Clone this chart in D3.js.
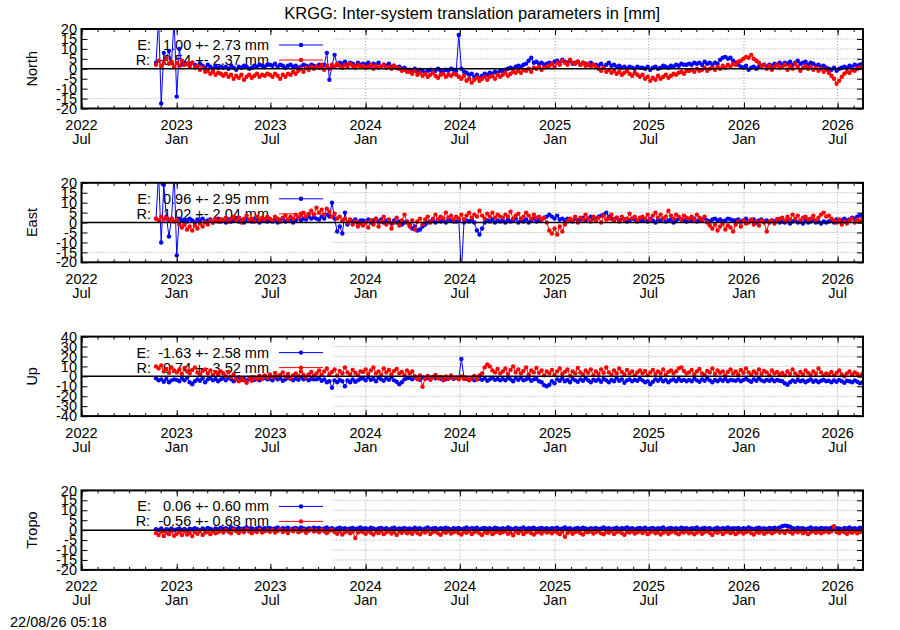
<!DOCTYPE html>
<html>
<head>
<meta charset="utf-8">
<script src="https://cdn.jsdelivr.net/npm/d3@7"></script>
<style>
body { margin: 0; background: #fff; }
text { font-family: "Liberation Sans", Arial, sans-serif; font-size: 14.5px; fill: #000; }
</style>
</head>
<body>
<svg id="chart" width="900" height="630"></svg>
<script>
// samples every 5 days from 2022-11-22
var sampleStart = "2022-11-22";
var sampleStepDays = 5;

var northE = [3, 25, -17.5, 8, 5, 9, 3, 25,
  -14, 10, 2, 3, 2.5, 1.5, 3, 2, 1, 2.5, 1.5, 0.5, 2, 1, 0, 1.5, 0.5, 1,
  0.5, 1, 0, 1.5, 0.5, -0.5, 1, 0.5, 1.5, 1, 0, 0.5, 1.5, 1, 2, 1.5, 1, 2,
  2, 1.5, 2.5, 1, 2, 1.5, 0.5, 1.5, 2, 1, 1.5, 0.5, 1, 2, 1.5, 1, 2, 1.5,
  1, 2, 0.5, 2, 8, -5.5, 1.5, 7, 2, 3, 2.5, 3.5, 2, 3, 2.5, 1.5, 3, 2,
  2.5, 2, 3, 1.5, 2.5, 2, 3, 1, 2, 1.5, 2.5, 1, 1.5, 0.5, 1, 0, 0.5, -0.5,
  -0.5, -1, 0, -1.5, -0.5, -1, -2, -1, -0.5, -1.5, -1, 0, -1, -1.5, -0.5, -1, 0, -0.5,
  -1, 17, 0, -1.5, -2, -3, -2.5, -4, -3, -4.5, -3.5, -2.5, -3, -2, -2.5, -1.5, -2, -1,
  -1, -0.5, 0, 0.5, 0, 1, 1.5, 1, 2, 2.5, 4, 5.5, 3, 3.5, 2.5, 3, 2, 2.5,
  3, 2.5, 3.5, 4, 3, 4.5, 3.5, 3, 4, 2.5, 3, 3.5, 2, 3, 2.5, 2, 3, 2,
  2, 1.5, 2.5, 1, 2, 3, 1.5, 2, 1, 1.5, 0.5, 1, 0, 1, 0.5, 0, 1, 0.5,
  0.5, 0, 1, -0.5, 0.5, 1, 0, 0.5, 1.5, 1, 0.5, 1.5, 1, 2, 1.5, 2.5, 2, 2,
  2.5, 2, 3, 2.5, 3, 2, 3.5, 2.5, 3, 2, 3, 2.5, 4.5, 5.5, 6, 5, 5.5, 4,
  3, 2, 1, 0.5, 1.5, -0.5, 0.5, 1, 0, 1, 1.5, 2, 1, 2, 1.5, 2.5, 2, 3,
  2, 3, 2.5, 3.5, 2, 3, 4, 2.5, 3, 3.5, 2, 3, 2.5, 1.5, 2, 1, 1.5, 0.5,
  0, -0.5, 0.5, -1, 0, 0.5, 1, 0.5, 1.5, 1, 2, 1.5, 2, 2.5];

var northR = [2, 4, 1.5, 3, 5, 2.5, 3.5, 1,
  3, 1.5, 4, 2, 2.5, 1, 3, 0.5, 1.5, -0.5, 0.5, -1.5, -1, -2.5, -1.5, -3, -2, -2.5,
  -3.5, -2.5, -4, -3, -5, -3.5, -4.5, -3, -5.5, -4, -3, -4.5, -3.5, -2.5, -4, -3, -3.5, -2.5,
  -3, -4, -2.5, -3.5, -5, -3, -4, -2.5, -3, -1.5, -2.5, -1, 0, -1.5, 0.5, -0.5, 1, 0,
  1, 0.5, 2, -0.5, 1.5, 0, 2, 1, 2.5, 1.5, 0.5, 2, 1, 2.5, 1.5, 0.5, 2, 1,
  1.5, 0.5, 1, 2, 0, 1.5, 0.5, 1, 2, 0.5, 1, 0, 1.5, 0.5, 0, -1, -0.5, -1.5,
  -1.5, -2.5, -1, -3, -2, -3.5, -2.5, -4, -3, -2, -3.5, -4.5, -3, -2.5, -4, -3, -3.5, -2.5,
  -3, -4, -5, -3.5, -6, -5, -7, -5.5, -4.5, -6, -5, -4, -5.5, -4, -3.5, -5, -3, -4,
  -3, -2, -3.5, -2.5, -1.5, -2, -1, -2, -0.5, -1, 0, -1.5, 0.5, 0, 1, -0.5, 0.5, 1,
  1.5, 2.5, 1, 3, 2, 4, 3, 2, 4.5, 3, 2.5, 3.5, 2, 3, 1.5, 2.5, 1, 2,
  1, 0, -1, 0.5, -1.5, -0.5, -2, -1, -2.5, -1.5, -3, -2, -1, -2.5, -3.5, -2, -3, -4,
  -3, -5, -4, -6, -4.5, -5.5, -3.5, -5, -4, -3, -4.5, -3.5, -2.5, -3, -2, -1.5, -2.5, -1,
  -1, -0.5, -1.5, 0, -1, -0.5, 0.5, -1, 0, 0.5, -0.5, 1, 0, 1.5, 0.5, 2, 1, 2.5,
  2, 3.5, 4, 5, 6, 5.5, 7, 5, 4, 3, 1, 2, 0, 1.5, -0.5, 1, 2, 0.5,
  1, 2, -0.5, 1.5, 0, 2.5, 1, -1, 0.5, 1.5, 0, 1, -0.5, 0.5, -1, 0, -1.5, -0.5,
  -2, -3.5, -5, -7.5, -6, -4, -2.5, -1.5, -2, -0.5, -1, 0, 0.5, 1];

var eastE = [2, 25, -10, 19, 3, -7, 2, 25,
  -16.5, 2, 1, 1.5, 0.5, 2, 1, 0, 1.5, 1, 2, 0.5, 1, 1.5, 0, 1, 2, 0.5,
  1, 0, 1.5, 0.5, 1, 2, 0.5, 1, 0, 1.5, 1, 0.5, 2, 1, 0, 1, 1.5, 0.5,
  1, 0.5, 1.5, 0, 1, 2, 0.5, 1, 1.5, 0, 1, 2.5, 1, 2, 1.5, 3, 2, 2.5,
  2, 1.5, 3, 2, 4, 3, 10, 2, -4.5, -2, -5.5, 5, -1, 1, 0.5, 1.5, 0, 1,
  1, 0.5, 1.5, 0, 1, 2, 0.5, 1.5, 0, 1, 0.5, -0.5, 1, 0, 0.5, -1, 0, 0.5,
  -1, -3, -2, -4, -3.5, -2, -1, 0, 0.5, 1, 0, 1.5, 0.5, 1, 0, 1.5, 1, 0.5,
  0.5, 1, -25, 0, 1, 0.5, 1.5, 0, -4, -6, -3, 0, 1, 0.5, 1.5, 0, 1, 0.5,
  1, 0, 1.5, 0.5, 1, 2, 0, 1, 0.5, 1.5, 0, 1, 2, 0.5, 1, 1.5, 2.5, 3,
  4, 3, 2, 3.5, 1.5, 2, 1, 2, 1.5, 0.5, 2, 1, 1.5, 2.5, 1, 2, 3, 2,
  2, 3, 3.5, 4, 5, 3, 2, 1.5, 2.5, 1, 2, 1.5, 0.5, 1, 2, 1.5, 0.5, 1,
  1, 1.5, 0.5, 2, 1, 0, 1.5, 1, 2, 0.5, 1, 1.5, 0, 1, 2, 1.5, 1, 0.5,
  1.5, 1, 2, 0.5, 1, 1.5, 2, 1, 0.5, 1.5, 2, 1, 1.5, 0.5, 1, 2, 1.5, 1,
  1, 1.5, 0.5, 1, 2, 0.5, 1, 1.5, 0, 1, 1.5, 0.5, 1, 0, 1, 0.5, 1.5, 0,
  0.5, 0, 1, -0.5, 0.5, 1, 0, 0.5, -0.5, 1, 0, 0.5, 1, 0, 0.5, -0.5, 0.5, 0,
  0.5, 1, 0, 1.5, 0.5, 1, 2, 1, 1.5, 2.5, 2, 3, 3.5, 4];

var eastR = [2, 1, 3, 1.5, 2.5, 1, 2, 0.5,
  1, -1, -2.5, -1, -3.5, -2, -4, -1.5, -3, -0.5, -2, 0, -1, 1, 0, 2, 0.5, 1.5,
  1, 2.5, 0.5, 2, 3, 1, 2.5, 0, 2, 3.5, 1.5, 2, 0.5, 3, 1, 2.5, 1.5, 3,
  2, 1, 3, 2, 0.5, 2.5, 3.5, 1.5, 3, 2, 4, 2.5, 3.5, 5, 3, 4.5, 6, 4,
  7.5, 5, 6.5, 4, 7, 5.5, 3, 4.5, 2, 3, 1, 2, 0, 1.5, -1, 0.5, -2, -0.5,
  -1.5, 0, -2.5, 1, -1, 2, -2, 0.5, 3, -1, 1.5, -3, 0, 2.5, -1.5, 1, 4, 0,
  -2, 1, -3.5, 0.5, 2, -1, 1.5, 3, 0, 2, 4, 1.5, 3, 2, 5, 2.5, 3.5, 1.5,
  3, 2, 4, 1.5, 3.5, 5, 2.5, 4, 3, 6, 3.5, 2, 4.5, 3, 5, 2.5, 4, 3,
  2.5, 4, 3, 5.5, 2, 3.5, 4.5, 2, 3, 5, 3.5, 2, 4, 2.5, 3, 1.5, 2.5, 0,
  -4, -5.5, -3, -6, -2, -4.5, -1, 0.5, 2, 1, 3, 0, 2.5, 1.5, 4, 2, 0.5, 3,
  1, 2.5, 0, 3.5, 1.5, 2, 4, 1, 2.5, 0.5, 3, 1.5, 2, 4.5, 2, 3, 1, 2.5,
  3, 2, 4, 1.5, 3.5, 5, 2.5, 4, 2, 3, 6, 3.5, 2, 4, 3, 1.5, 3.5, 2.5,
  2, 3, 1.5, 4, 2.5, 1, 3, 0, -1.5, -3, -1, -4, -2, -0.5, -3.5, -1.5, -2.5, -4.5,
  -1, 0.5, -2, 1, -0.5, 0, 1.5, -1, 0.5, -1.5, 1, 0, -4.5, 0.5, 1, -0.5, 1.5, 2,
  2.5, 1, 3, 1.5, 4, 2, 3.5, 1, 2.5, 3, 1.5, 2, 3.5, 1, 2.5, 4, 5, 3,
  3.5, 2, 1, 0, 1.5, -1, 0.5, -0.5, 1, 2, 0, 1.5, 0.5, 2];

var upE = [-2, -4, -3, -5.5, -2.5, -6, -4, -3,
  -3.5, -5, -2, -4, -1.5, -6, -8, -5, -3, -4.5, -2, -6, -3, -1.5, -4, -2.5, -5, -3,
  -2, -4, -1.5, -3, -5, -2.5, -1, -3.5, -2, -4.5, -3, -1, -3.5, -2, -4, -2.5, -1.5, -3,
  -2.5, -4, -1, -3, -2, -4.5, -3, -1.5, -2.5, -4, -2, -3.5, -1, -3, -2, -4, -2.5, -3,
  -3, -2, -4.5, -3, -6, -5, -11.5, -4, -6, -3.5, -5, -10, -4, -6, -3, -5.5, -4, -2.5,
  -2, -4, -1, -3.5, -2.5, -5, -1.5, -3, -4.5, -2, -3.5, -1, -4, -5.5, -8, -6, -3, -2,
  -1.5, -3, -0.5, -2, -3.5, -1, -2.5, -1.5, -3, -0.5, -2, -1, -2.5, -1.5, -3, -2, -1, -2.5,
  -1.5, -2, 17.5, -1, -2.5, -3.5, -2, -4, -3, -2.5, -3.5, -2, -4.5, -3, -1.5, -3.5, -2.5, -4,
  -2.5, -4, -1.5, -3, -5, -2, -3.5, -1.5, -4, -3, -2, -4.5, -3, -2.5, -5, -6, -9, -10,
  -8.5, -5, -7, -3, -4.5, -2, -5, -3.5, -6, -2.5, -4, -5.5, -3, -4.5, -2, -4, -6, -3.5,
  -4.5, -3, -5.5, -2.5, -4, -6, -3.5, -5, -2, -4.5, -3, -6.5, -4, -3, -5, -3.5, -4.5, -2.5,
  -4, -6, -5, -8, -5.5, -3, -4.5, -2.5, -5, -3.5, -6, -4, -3, -5, -2.5, -4.5, -3.5, -5,
  -3.5, -5, -2.5, -4, -5.5, -3, -4.5, -2, -4, -6, -3.5, -5, -3, -4.5, -2.5, -5, -3.5, -4,
  -4.5, -3, -5, -3.5, -2.5, -4, -5.5, -3, -4.5, -2, -4, -5, -3.5, -4.5, -3, -5, -3.5, -4.5,
  -5, -7, -8.5, -6, -4, -5.5, -3.5, -5, -4, -6, -4.5, -3, -5.5, -4, -6, -4.5, -3.5, -5,
  -4.5, -6, -4, -5.5, -3.5, -5, -6.5, -4.5, -5, -6, -4, -5.5, -7, -6];

var upR = [10, 8, 11, 5, 7.5, 3.5, 9, 6,
  4, 7, 2.5, 8.5, 5, 3, 6.5, 9, 4, 2, 5.5, 7, 3, 6, 1.5, 4.5, 2, 5,
  3, 0, 4.5, -1, 2, -3, -5, -1.5, -4, -6.5, -2, -4.5, -1, -3, 0.5, -2.5, 1, -1.5,
  2, -1, 3.5, 0, 1.5, 4, -0.5, 2.5, -2, 1, 3, 0, 5, 1.5, -1, 2, 4.5, 0.5,
  3, 6, 1.5, 5, 8, 2, 4.5, 7, 0.5, 5.5, 3, 9, 4, 2, 6.5, 3.5, 1, 5,
  4.5, 7, 2.5, 6, 9, 3, 5, 1.5, 8, 4, 6.5, 2, 5.5, 7.5, 3, 4.5, 1, 6,
  3, 5, 0, -3, 1, -10.5, -2, 0.5, -3.5, -1, 1.5, -2, -0.5, -4, 0, -2.5, 1, -1.5,
  -1, -3, 0, -2.5, -1.5, -4, -2, 0.5, -3, 1, 3, 9, 12, 10, 6, 4, 7.5, 3,
  5, 8, 2.5, 6.5, 10, 4, 7, 3, 5.5, 9, 2, 6, 4, 8.5, 3.5, 6, 1, 5,
  3, 6.5, 1.5, 5, 8, 2.5, 4.5, 7, 0.5, 5, 3, 8.5, 4, 2, 6, 3.5, 7, 1,
  5, 2.5, 7, 3.5, 9, 4, 1.5, 6, 3, 8, 4.5, 2, 6.5, 3, 5, 1, 4, 6,
  3, 5.5, 1, 4, 6.5, 2.5, 5, 3, 7, 1.5, 4.5, 6, 3, 5, 8, 9, 5.5, 3,
  4, 6.5, 2, 5, 7.5, 3, 1.5, 5.5, 4, 8, 2.5, 6, 3.5, 5, 1, 4.5, 7, 3,
  5, 2, 6.5, 3.5, 8, 4, 1.5, 5, 3, 7, 2.5, 5.5, 4, 1, 6, 3, 4.5, 2,
  3.5, 1, 5, 2.5, 7, 3, 0.5, 4.5, 2, 6, 3.5, 1.5, 5, 2.5, 8, 4, 1, 3,
  2, 4.5, 1, 3.5, 6, 2, 0, 3, 5, 1.5, 4, 2.5, 0.5, 3];

var tropoE = [0.5, 0, 0.8, -0.3, 0.5, 0.2, 0.9, 0,
  0.4, 0.9, 0.1, 0.6, -0.2, 0.7, 0.3, 1, 0.5, 0, 0.8, 0.4, 1.1, 0.6, 0.2, 0.9, 0.5, 1.2,
  0.7, 1, 0.4, 1.3, 0.8, 0.5, 1.1, 0.6, 0.9, 1.4, 0.7, 1, 0.3, 0.8, 1.2, 0.6, 1, 0.8,
  1.1, 0.6, 0.9, 1.4, 0.5, 1, 0.7, 1.2, 0.4, 0.9, 1.1, 0.6, 1.3, 0.8, 0.5, 1, 0.7, 1.2,
  0.8, 1.1, 0.5, 0.9, 1.3, 0.6, 1, 0.4, 0.8, 1.2, 0.7, 1, 0.5, 0.9, 1.1, 0.6, 0.8, 1.3,
  0.7, 1, 0.5, 1.2, 0.8, 0.4, 0.9, 1.1, 0.6, 1, 0.3, 0.8, 1.2, 0.5, 0.9, 0.7, 1.1, 0.6,
  0.9, 0.5, 1.2, 0.7, 1, 0.4, 0.8, 1.3, 0.6, 0.9, 1.1, 0.5, 1, 0.7, 1.2, 0.8, 0.4, 1,
  0.7, 1.1, 0.5, 0.9, 1.3, 0.6, 1, 0.8, 1.2, 0.4, 0.9, 1.1, 0.7, 1, 0.5, 1.2, 0.8, 0.6,
  1, 0.6, 1.3, 0.8, 0.5, 1.1, 0.7, 0.9, 1.4, 0.6, 1, 0.8, 1.2, 0.5, 0.9, 1.1, 0.7, 1,
  0.6, 1, 0.8, 1.2, 0.5, 0.9, 1.3, 0.7, 1, 0.4, 0.8, 1.1, 0.6, 1.2, 0.9, 0.5, 1, 0.7,
  1.1, 0.6, 0.9, 1.3, 0.7, 1, 0.5, 0.8, 1.2, 0.6, 1, 0.9, 1.4, 0.7, 1, 0.5, 0.8, 1.1,
  0.7, 1.2, 0.5, 0.9, 1.1, 0.6, 1, 0.8, 1.3, 0.5, 0.9, 1.1, 0.7, 1, 0.6, 1.2, 0.8, 1,
  0.6, 1, 0.8, 1.3, 0.5, 0.9, 1.1, 0.7, 1, 0.4, 0.8, 1.2, 0.6, 1, 0.9, 1.3, 0.7, 1,
  0.8, 1.1, 0.6, 1, 0.7, 1.3, 0.9, 0.5, 1, 1.2, 0.7, 1, 0.6, 1.1, 0.8, 1.2, 0.9, 1.4,
  2, 2.3, 2.1, 1.7, 1, 0.7, 1.2, 0.8, 1, 0.5, 0.9, 1.3, 0.7, 1, 0.6, 1.1, 0.8, 1,
  0.7, 1.2, 0.6, 1, 0.9, 0.5, 1.1, 0.8, 1.3, 0.7, 1, 0.6, 1.2, 0.9];

var tropoR = [-1.5, -2.5, -0.8, -3, -1.2, -2, -0.5, -2.8,
  -1.8, -1, -2.5, -0.6, -2.2, -1.4, -3, -1, -1.8, -0.4, -2.4, -1.2, -0.8, -2, -0.5, -1.6, -1, -0.3,
  -1.2, 0, -0.8, -1.6, 0.3, -0.6, -1.4, -0.2, -1, 0.5, -0.7, -1.5, -0.3, -0.9, 0.2, -1.2, -0.5, -0.1,
  -0.8, 0.2, -1.2, -0.4, 0.4, -0.9, -0.2, -1.4, 0, -0.6, 0.3, -1, -0.5, 0.1, -1.3, -0.3, 0.4, -0.7,
  -0.2, -1.1, 0.2, -0.6, -1.5, -0.3, 0.1, -0.9, -1.8, -0.5, -2.2, -1, -0.4, -1.6, -0.7, -4, -1.2, -0.6,
  -1, -1.8, -0.5, -1.3, -2.2, -0.8, -1.5, -0.4, -2, -1.1, -0.6, -1.7, -1, -2.4, -0.7, -1.3, -0.3, -1.6,
  -0.9, -1.8, -0.4, -1.4, -2.1, -0.7, -1.2, -0.3, -1.9, -1, -0.5, -1.6, -2.3, -0.8, -1.3, -0.5, -1.7, -1,
  -0.6, -1.5, -2.2, -0.8, -1.3, -0.4, -1.9, -1, -0.6, -1.6, -2.4, -0.9, -1.4, -0.5, -2, -1.1, -0.7, -1.5,
  -1, -0.4, -1.8, -1.2, -2.6, -0.7, -1.4, -0.5, -2, -1, -0.6, -1.5, -2.2, -1.1, -0.8, -1.7, -0.5, -1.2,
  -0.9, -1.6, -0.4, -1.2, -2, -0.7, -3.3, -1.4, -0.6, -1.8, -1, -0.5, -1.5, -2.2, -0.8, -1.1, -0.4, -1.7,
  -1, -0.5, -1.6, -2.1, -0.8, -1.3, -0.4, -1.9, -1, -0.6, -1.5, -2.3, -0.9, -1.2, -0.5, -1.7, -1.1, -0.6,
  -1.4, -0.7, -2, -1.1, -0.5, -1.6, -0.9, -2.2, -1.3, -0.6, -1.8, -1, -0.4, -1.5, -2.1, -0.8, -1.2, -0.5,
  -1.6, -0.9, -2.1, -1.2, -0.6, -1.8, -1, -0.4, -1.4, -2.4, -0.8, -1.3, -0.5, -1.9, -1.1, -0.7, -1.5, -0.9,
  -2, -1.2, -0.6, -1.7, -1, -0.4, -1.5, -2.2, -0.8, -1.3, -0.5, -1.8, -1.1, -0.7, -1.6, -0.9, -0.3, -1.2,
  -0.6, -1.4, -0.2, -0.9, -1.7, -0.5, -1.1, -0.3, -1.5, -0.8, -2, -1, -0.4, -1.3, -0.7, -1.6, -0.9, -0.5,
  -1.2, -0.6, 2, -0.9, -1.5, -0.4, -1.1, -1.8, -0.7, -1.3, -0.5, -1.6, -0.9, -0.4];

var panelNames = ["North", "East", "Up", "Tropo"];
var seriesE = [northE, eastE, upE, tropoE];
var seriesR = [northR, eastR, upR, tropoR];
var keyTextE = ["E:   1.00 +- 2.73 mm", "E:   0.96 +- 2.95 mm", "E:  -1.63 +- 2.58 mm", "E:   0.06 +- 0.60 mm"];
var keyTextR = ["R:  -0.54 +- 2.37 mm", "R:   1.02 +- 2.04 mm", "R:   0.74 +- 3.52 mm", "R:  -0.56 +- 0.68 mm"];
var ticks20 = [-20, -15, -10, -5, 0, 5, 10, 15, 20];
var ticks40 = [-40, -30, -20, -10, 0, 10, 20, 30, 40];
var yTicks = [ticks20, ticks20, ticks40, ticks20];

var xTickDates = ["2022-07-01", "2023-01-01", "2023-07-01", "2024-01-01", "2024-07-01",
                  "2025-01-01", "2025-07-01", "2026-01-01", "2026-07-01"];
var xTickYear = ["2022", "2023", "2023", "2024", "2024", "2025", "2025", "2026", "2026"];
var xTickMonth = ["Jul", "Jan", "Jul", "Jan", "Jul", "Jan", "Jul", "Jan", "Jul"];

var titleText = "KRGG: Inter-system translation parameters in [mm]";
var stampText = "22/08/26 05:18";

// layout
var left = 81.5, right = 863;
var top0 = 29, panelStep = 153.8, panelH = 79.5;
var keyRight = 332;
var keyBottom = [-12.5, -12.5, -40, -20];
var ptR = 2.2;

var parse = d3.utcParse("%Y-%m-%d");
var DAY = 864e5;
var t0 = parse(sampleStart);
var tickDates = xTickDates.map(parse);

var x = d3.scaleUtc()
    .domain([parse("2022-07-01"), parse("2026-08-19")])
    .range([left, right]);

var svg = d3.select("#chart");

svg.append("text")
    .attr("x", (left + right) / 2)
    .attr("y", 19)
    .attr("text-anchor", "middle")
    .style("font-size", "16.5px")
    .text(titleText);

svg.append("text")
    .attr("x", 10)
    .attr("y", 627)
    .text(stampText);

var minorDates = d3.utcMonth.range(x.domain()[0], x.domain()[1]);

panelNames.forEach(function(name, p) {
  var top = top0 + p * panelStep;
  var bottom = top + panelH;
  var ticks = yTicks[p];
  var lim = d3.max(ticks);

  var y = d3.scaleLinear().domain([-lim, lim]).range([bottom, top]);

  var g = svg.append("g");

  // grid
  g.selectAll(".hgrid")
    .data(ticks.filter(function(d) { return d !== 0 && Math.abs(d) !== lim; }))
    .enter().append("line")
      .attr("x1", left).attr("x2", right)
      .attr("y1", function(d) { return y(d); })
      .attr("y2", function(d) { return y(d); })
      .attr("stroke", "#a0a0a0")
      .attr("stroke-dasharray", "1,2");

  g.selectAll(".vgrid")
    .data(tickDates.filter(function(d) { return x(d) > keyRight; }))
    .enter().append("line")
      .attr("x1", function(d) { return x(d); })
      .attr("x2", function(d) { return x(d); })
      .attr("y1", top).attr("y2", bottom)
      .attr("stroke", "#a0a0a0")
      .attr("stroke-dasharray", "1,2");

  // opaque key box
  g.append("rect")
    .attr("x", left + 1)
    .attr("y", top + 1)
    .attr("width", keyRight - left - 1)
    .attr("height", y(keyBottom[p]) - top - 1)
    .attr("fill", "#fff");

  // key
  var keyRows = [{txt: keyTextE[p], col: "#0000ff"}, {txt: keyTextR[p], col: "#ff0000"}];
  keyRows.forEach(function(k, r) {
    var cy = top + 16 + r * 15;
    g.append("text")
      .attr("x", 269)
      .attr("y", cy + 5)
      .attr("text-anchor", "end")
      .text(k.txt.replace(/ /g, "\u00a0"));
    g.append("line")
      .attr("x1", 279).attr("x2", 323)
      .attr("y1", cy).attr("y2", cy)
      .attr("stroke", k.col);
    g.append("circle")
      .attr("cx", 301).attr("cy", cy).attr("r", ptR)
      .attr("fill", k.col);
  });

  // data
  var clipId = "clip" + p;
  svg.append("clipPath").attr("id", clipId)
    .append("rect")
      .attr("x", left).attr("y", top)
      .attr("width", right - left).attr("height", panelH);

  var dataG = g.append("g").attr("clip-path", "url(#" + clipId + ")");

  [{vals: seriesE[p], col: "#0000ff"}, {vals: seriesR[p], col: "#ff0000"}].forEach(function(s) {
    var pts = s.vals.map(function(v, i) {
      return {t: new Date(+t0 + i * sampleStepDays * DAY), v: v};
    });
    var line = d3.line()
      .x(function(d) { return x(d.t); })
      .y(function(d) { return y(d.v); });
    dataG.append("path")
      .datum(pts)
      .attr("d", line)
      .attr("fill", "none")
      .attr("stroke", s.col)
      .attr("stroke-width", 1);
    dataG.selectAll(null)
      .data(pts)
      .enter().append("circle")
        .attr("cx", function(d) { return x(d.t); })
        .attr("cy", function(d) { return y(d.v); })
        .attr("r", ptR)
        .attr("fill", s.col);
  });

  // zero axis
  g.append("line")
    .attr("x1", left).attr("x2", right)
    .attr("y1", y(0)).attr("y2", y(0))
    .attr("stroke", "#000")
    .attr("stroke-width", 1.5);

  // ticks
  g.append("g")
    .attr("transform", "translate(" + left + ",0)")
    .call(d3.axisLeft(y).tickValues(ticks).tickSize(-6).tickPadding(4.5)
      .tickFormat(function(d) { return String(d); }))
    .call(function(a) { a.select(".domain").remove(); })
    .call(function(a) {
      a.selectAll("text").attr("font-size", null).attr("font-family", null).attr("fill", null);
    });

  g.append("g")
    .attr("transform", "translate(" + right + ",0)")
    .call(d3.axisRight(y).tickValues(ticks).tickSize(-6).tickFormat(""))
    .call(function(a) { a.select(".domain").remove(); });

  [bottom, top].forEach(function(yy, k) {
    var axis = k === 0 ? d3.axisBottom(x) : d3.axisTop(x);
    g.append("g")
      .attr("transform", "translate(0," + yy + ")")
      .call(axis.tickValues(minorDates).tickSize(-3).tickFormat(""))
      .call(function(a) { a.select(".domain").remove(); });
    axis = k === 0 ? d3.axisBottom(x) : d3.axisTop(x);
    g.append("g")
      .attr("transform", "translate(0," + yy + ")")
      .call(axis.tickValues(tickDates).tickSize(-6).tickFormat(""))
      .call(function(a) { a.select(".domain").remove(); });
  });

  g.selectAll(".tick line").attr("stroke", "#000");

  // x labels
  var lab = g.selectAll(".xlab")
    .data(tickDates)
    .enter().append("text")
      .attr("text-anchor", "middle")
      .attr("x", function(d) { return x(d); });
  lab.append("tspan")
    .attr("x", function(d) { return x(d); })
    .attr("y", bottom + 21.5)
    .text(function(d, i) { return xTickYear[i]; });
  lab.append("tspan")
    .attr("x", function(d) { return x(d); })
    .attr("y", bottom + 35.5)
    .text(function(d, i) { return xTickMonth[i]; });

  // border
  g.append("rect")
    .attr("x", left).attr("y", top)
    .attr("width", right - left).attr("height", panelH)
    .attr("fill", "none")
    .attr("stroke", "#000")
    .attr("stroke-width", 2);

  // y label
  g.append("text")
    .attr("transform", "translate(37," + (top + panelH / 2) + ") rotate(-90)")
    .attr("text-anchor", "middle")
    .text(name);
});
</script>
</body>
</html>
